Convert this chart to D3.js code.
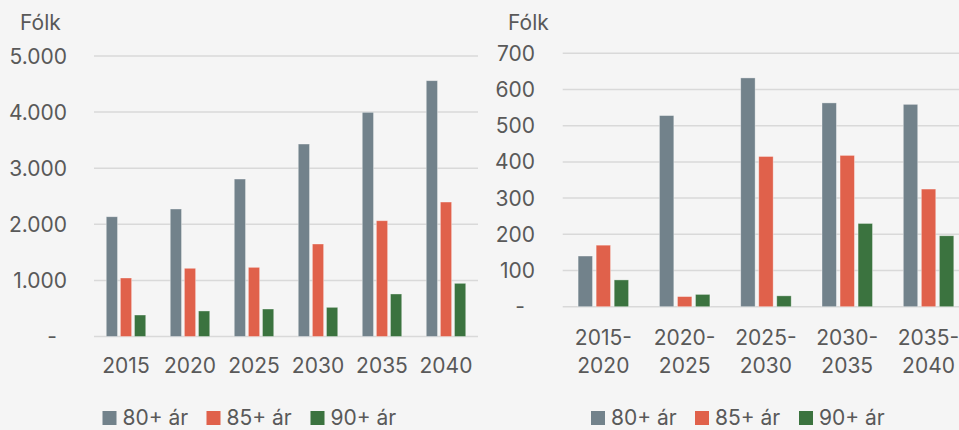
<!DOCTYPE html>
<html>
<head>
<meta charset="utf-8">
<script src="https://cdn.jsdelivr.net/npm/d3@7"></script>
<style>
  body { margin: 0; background: #f5f5f5; }
  svg { display: block; }
  text { font-family: Inter, "Open Sans", sans-serif; fill: #595959; }
</style>
</head>
<body>
<div id="chart"></div>
<script>
// data
var series = ["80+ ár", "85+ ár", "90+ ár"];
var colors = ["#72828b", "#e0614b", "#3b733f"];

var left_years = ["2015", "2020", "2025", "2030", "2035", "2040"];
var left_80 = [2135, 2273, 2807, 3431, 3996, 4560];
var left_85 = [1043, 1216, 1233, 1649, 2064, 2397];
var left_90 = [383, 455, 490, 520, 758, 948];
var left_ticks = [0, 1000, 2000, 3000, 4000, 5000];

var right_periods = ["2015-2020", "2020-2025", "2025-2030", "2030-2035", "2035-2040"];
var right_80 = [140, 528, 632, 563, 559];
var right_85 = [170, 28, 415, 418, 325];
var right_90 = [74, 34, 30, 230, 196];
var right_ticks = [0, 100, 200, 300, 400, 500, 600, 700];

var width = 959, height = 430;
var fontSize = "21px";

var svg = d3.select("#chart").append("svg")
            .attr("width", width)
            .attr("height", height);

var fmt = d3.formatLocale({decimal: ",", thousands: ".", grouping: [3], currency: ["", ""]}).format(",d");

function drawPanel(cfg) {
  var g = svg.append("g");

  var x = d3.scaleBand().domain(cfg.categories).range([cfg.x0, cfg.x1]);
  var y = d3.scaleLinear().domain([0, cfg.max]).range([cfg.y0, cfg.y1]);
  var inner = d3.scaleBand().domain(series).range([0, cfg.groupWidth]).paddingInner(cfg.barGap);

  // grid
  g.selectAll("line.grid")
   .data(cfg.ticks)
   .enter()
   .append("line")
   .attr("x1", cfg.x0)
   .attr("x2", cfg.gridEnd)
   .attr("y1", function(d) { return y(d); })
   .attr("y2", function(d) { return y(d); })
   .attr("stroke", "#d9d9d9")
   .attr("stroke-width", 1.5);

  // y labels
  g.selectAll("text.ytick")
   .data(cfg.ticks)
   .enter()
   .append("text")
   .attr("x", function(d) { return d === 0 ? cfg.labelX - 10 : cfg.labelX; })
   .attr("y", function(d) { return y(d); })
   .attr("text-anchor", "end")
   .attr("dominant-baseline", "central")
   .style("font-size", fontSize)
   .text(function(d) { return d === 0 ? "-" : cfg.format(d); });

  g.append("text")
   .attr("x", cfg.titleX)
   .attr("y", 30)
   .style("font-size", fontSize)
   .text("Fólk");

  // bars
  var rows = [];
  cfg.categories.forEach(function(c, i) {
    series.forEach(function(s, j) {
      rows.push({cat: c, s: s, v: cfg.values[j][i], color: colors[j]});
    });
  });

  g.selectAll("rect.bar")
   .data(rows)
   .enter()
   .append("rect")
   .attr("x", function(d) { return x(d.cat) + (x.bandwidth() - cfg.groupWidth) / 2 + inner(d.s); })
   .attr("y", function(d) { return y(d.v); })
   .attr("width", inner.bandwidth())
   .attr("height", function(d) { return y(0) - y(d.v); })
   .attr("fill", function(d) { return d.color; })
   .attr("stroke", "rgba(255,255,255,0.45)")
   .attr("stroke-width", 0.8);

  // x labels, split at the dash onto two lines
  g.selectAll("text.xtick")
   .data(cfg.categories)
   .enter()
   .append("text")
   .attr("text-anchor", "middle")
   .style("font-size", fontSize)
   .each(function(d) {
     var parts = d.indexOf("-") > 0 ? [d.split("-")[0] + "-", d.split("-")[1]] : [d];
     var t = d3.select(this);
     parts.forEach(function(p, k) {
       t.append("tspan")
        .attr("x", x(d) + x.bandwidth() / 2)
        .attr("y", cfg.xLabelY + k * 28)
        .text(p);
     });
   });

  // legend
  var lg = g.selectAll("g.legend")
   .data(series)
   .enter()
   .append("g")
   .attr("transform", function(d, i) { return "translate(" + (cfg.legendX + i * 104) + ",411)"; });
  lg.append("rect")
    .attr("width", 14)
    .attr("height", 14)
    .attr("fill", function(d, i) { return colors[i]; });
  lg.append("text")
    .attr("x", 20)
    .attr("y", 14)
    .style("font-size", fontSize)
    .text(function(d) { return d; });
}

drawPanel({
  categories: left_years,
  values: [left_80, left_85, left_90],
  ticks: left_ticks,
  max: 5000,
  x0: 94, x1: 478, gridEnd: 478,
  y0: 336.5, y1: 56,
  groupWidth: 39.5, barGap: 0.2,
  labelX: 67, titleX: 20,
  xLabelY: 373,
  legendX: 102.5,
  format: fmt
});

drawPanel({
  categories: right_periods,
  values: [right_80, right_85, right_90],
  ticks: right_ticks,
  max: 700,
  x0: 562.7, x1: 969.2, gridEnd: 959,
  y0: 306.7, y1: 53.3,
  groupWidth: 50.5, barGap: 0.2,
  labelX: 535, titleX: 508,
  xLabelY: 345,
  legendX: 591,
  format: function(d) { return String(d); }
});
</script>
</body>
</html>
